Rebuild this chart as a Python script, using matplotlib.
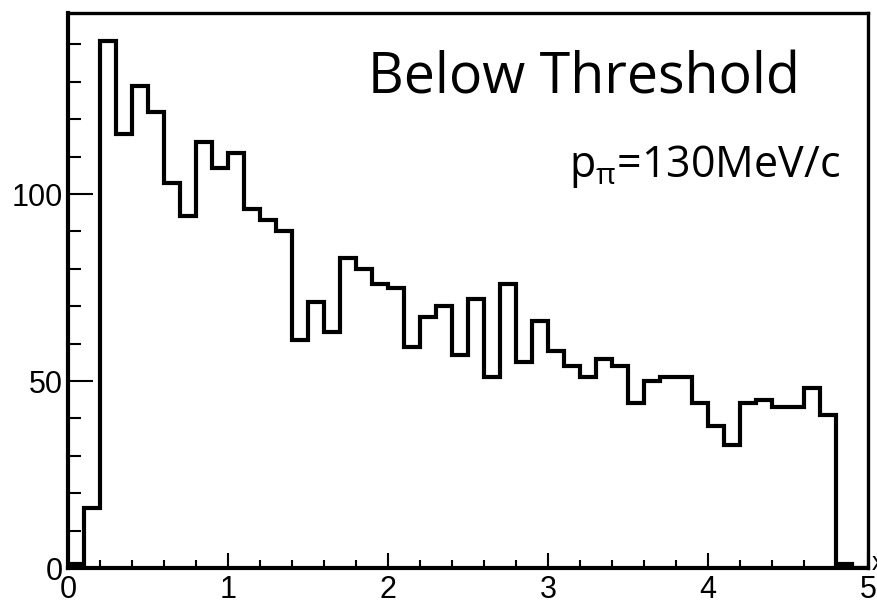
import numpy as np
import matplotlib.pyplot as plt
from matplotlib.ticker import MultipleLocator

# bin edges 0..5 in steps of 0.1, counts
edges = np.linspace(0.0, 5.0, 51)
counts = [1, 16, 141, 116, 129, 122, 103, 94, 114, 107,
          111, 96, 93, 90, 61, 71, 63, 83, 80, 76,
          75, 59, 67, 70, 57, 72, 51, 76, 55, 66,
          58, 54, 51, 56, 54, 44, 50, 51, 51, 44,
          38, 33, 44, 45, 43, 43, 48, 41, 1, 0]

title_text = "Below Threshold"
momentum_text = r"p$_{\mathregular{π}}$=130MeV/c"

plt.rcParams['mathtext.fontset'] = 'custom'
plt.rcParams['mathtext.rm'] = 'Open Sans'
plt.rcParams['mathtext.default'] = 'regular'

fig = plt.figure(figsize=(8.78, 6.0), dpi=100)
ax = fig.add_axes([68/878, 32/600, 800/878, 555/600])

ax.stairs(counts, edges, baseline=0, color='black', linewidth=3.0)

ax.set_xlim(0, 5)
ax.set_ylim(0, 148.4)
ax.xaxis.set_major_locator(MultipleLocator(1))
ax.xaxis.set_minor_locator(MultipleLocator(0.2))
ax.yaxis.set_major_locator(MultipleLocator(50))
ax.yaxis.set_minor_locator(MultipleLocator(10))

ax.tick_params(which='both', direction='in', top=False, right=False,
               labelsize=22, width=1.5, colors='black')
ax.tick_params(axis='y', which='major', length=18, pad=4)
ax.tick_params(axis='y', which='minor', length=9)
ax.tick_params(axis='x', which='major', length=11, pad=5)
ax.tick_params(axis='x', which='minor', length=6)
for lab in ax.get_xticklabels() + ax.get_yticklabels():
    lab.set_family('Liberation Sans')

for side in ['left', 'bottom']:
    ax.spines[side].set_linewidth(3.0)
for side in ['top', 'right']:
    ax.spines[side].set_linewidth(2.4)

ax.text(800/878, 1 - 93/600, title_text, transform=fig.transFigure,
        ha='right', va='baseline', fontsize=40, family='Open Sans')
ax.text(840/878, 1 - 177/600, momentum_text, transform=fig.transFigure,
        ha='right', va='baseline', fontsize=31, family='Open Sans')

# cropped axis title at the right edge
fig.text(872/878, 1 - 570/600, "x", ha='left', va='baseline',
         fontsize=18, family='Liberation Sans')

fig.savefig('out.png', dpi=100)
